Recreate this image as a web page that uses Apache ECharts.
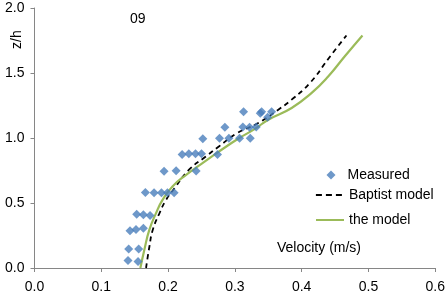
<!DOCTYPE html>
<html>
<head>
<meta charset="utf-8">
<script src="https://cdn.jsdelivr.net/npm/echarts@6/dist/echarts.min.js"></script>
<style>html,body{margin:0;padding:0;background:#fff}#c{width:448px;height:294px}</style>
</head>
<body>
<div id="c"></div>
<script>
// Measured points: velocity (m/s) and z/h
var measuredX = [0.140,0.155,0.141,0.156,0.143,0.152,0.163,0.153,0.163,0.173,0.166,0.179,0.190,0.199,0.209,0.194,0.212,0.221,0.231,0.241,0.250,0.242,0.274,0.252,0.277,0.291,0.285,0.307,0.323,0.312,0.322,0.332,0.313,0.338,0.340,0.355,0.349];
var measuredY = [0.057,0.050,0.147,0.147,0.287,0.296,0.306,0.414,0.409,0.404,0.581,0.578,0.578,0.578,0.578,0.745,0.748,0.874,0.879,0.879,0.879,0.746,0.874,0.995,0.998,0.998,1.082,0.998,0.998,1.085,1.082,1.085,1.202,1.190,1.202,1.202,1.159];
// Baptist model curve
var baptistX = [0.167,0.172,0.177,0.187,0.197,0.209,0.231,0.256,0.276,0.303,0.335,0.365,0.385,0.4125,0.440,0.467];
var baptistY = [0.000,0.164,0.293,0.420,0.524,0.610,0.754,0.856,0.935,1.036,1.115,1.218,1.295,1.424,1.610,1.789];
// "the model" curve
var modelX = [0.1585,0.1644,0.1719,0.1818,0.1917,0.2066,0.2265,0.251,0.276,0.306,0.330,0.350,0.385,0.415,0.440,0.4646,0.491];
var modelY = [0.000,0.139,0.293,0.420,0.524,0.627,0.715,0.805,0.895,0.998,1.070,1.141,1.231,1.347,1.475,1.629,1.789];
var xTicks = [0.0,0.1,0.2,0.3,0.4,0.5,0.6];
var yTicks = [0.0,0.5,1.0,1.5,2.0];

function zip(a,b){var r=[];for(var i=0;i<a.length;i++)r.push([a[i],b[i]]);return r;}

var FONT = '"Liberation Sans", Arial, sans-serif';
var FS = 14;
var axisCol = '#868686';
var chart = echarts.init(document.getElementById('c'), null, {renderer:'canvas'});
var legendBase = {
  orient:'vertical', padding:0, itemWidth:28, itemHeight:9, symbolKeepAspect:true,
  textStyle:{fontFamily:FONT, fontSize:FS, color:'#000', lineHeight:14},
  selectedMode:false
};
chart.setOption({
  animation:false,
  backgroundColor:'#fff',
  grid:{left:34.5, right:11, top:8, bottom:26, containLabel:false},
  xAxis:{
    type:'value', min:xTicks[0], max:xTicks[xTicks.length-1], interval:0.1,
    axisLine:{show:true, onZero:false, lineStyle:{color:axisCol, width:1}},
    axisTick:{show:true, length:4, lineStyle:{color:axisCol}},
    splitLine:{show:false},
    axisLabel:{margin:12, fontFamily:FONT, fontSize:FS, color:'#000', formatter:function(v){return v.toFixed(1);}}
  },
  yAxis:{
    type:'value', min:yTicks[0], max:yTicks[yTicks.length-1], interval:0.5,
    axisLine:{show:true, onZero:false, lineStyle:{color:axisCol, width:1}},
    axisTick:{show:true, length:4, lineStyle:{color:axisCol}},
    splitLine:{show:false},
    axisLabel:{margin:10, fontFamily:FONT, fontSize:FS, color:'#000', formatter:function(v){return v.toFixed(1);}}
  },
  legend:[
    Object.assign({}, legendBase, {left:326.5, top:168, itemWidth:9,
      textStyle:{fontFamily:FONT, fontSize:FS, color:'#000', lineHeight:14, padding:[0,0,0,7]},
      data:[{name:'Measured', icon:'path://M5,0 L10,5 L5,10 L0,5 Z'}]}),
    Object.assign({}, legendBase, {left:315, top:188, itemStyle:{opacity:0},
      lineStyle:{type:[6,4], width:1.8}, data:['Baptist model']}),
    Object.assign({}, legendBase, {left:315, top:213, itemStyle:{opacity:0}, data:['the model']})
  ],
  graphic:[
    {type:'text', left:130, top:12, style:{text:'09', font:FS+'px '+FONT, fill:'#000'}},
    {type:'text', x:10, y:49, rotation:Math.PI/2, style:{text:'z/h', font:FS+'px '+FONT, fill:'#000'}},
    {type:'text', left:277, top:241, style:{text:'Velocity (m/s)', font:FS+'px '+FONT, fill:'#000'}}
  ],
  series:[
    {name:'Measured', type:'scatter', data:zip(measuredX, measuredY), symbol:'diamond', symbolSize:9,
     itemStyle:{color:'#4A7EBB'}, z:3},
    {name:'Baptist model', type:'line', data:zip(baptistX, baptistY), smooth:true, symbol:'none', showSymbol:false,
     lineStyle:{color:'#000', width:1.8, type:[5,4]}, itemStyle:{color:'#000'}, z:2},
    {name:'the model', type:'line', data:zip(modelX, modelY), smooth:true, symbol:'none', showSymbol:false,
     lineStyle:{color:'#9BBB59', width:2.2}, itemStyle:{color:'#9BBB59'}, z:2}
  ]
});
</script>
</body>
</html>
